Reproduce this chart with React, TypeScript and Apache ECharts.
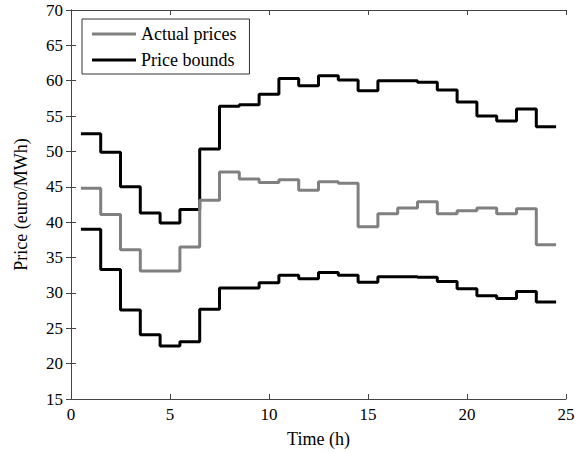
import React, { useEffect, useRef } from "react";
import * as echarts from "echarts";

const hours = [1, 2, 3, 4, 5, 6, 7, 8, 9, 10, 11, 12, 13, 14, 15, 16, 17, 18, 19, 20, 21, 22, 23, 24];
const actualPrices = [44.8, 41.1, 36.1, 33.1, 33.1, 36.5, 43.1, 47.1, 46.1, 45.6, 46.0, 44.5, 45.7, 45.5, 39.35, 41.2, 42.0, 42.9, 41.2, 41.6, 42.0, 41.2, 41.9, 36.8];
const upperBound = [52.5, 49.9, 45.0, 41.3, 39.9, 41.8, 50.35, 56.4, 56.6, 58.1, 60.3, 59.3, 60.7, 60.1, 58.6, 60.0, 60.0, 59.8, 58.7, 57.0, 55.0, 54.3, 56.0, 53.5];
const lowerBound = [39.0, 33.3, 27.6, 24.1, 22.5, 23.1, 27.7, 30.7, 30.7, 31.45, 32.5, 32.0, 32.9, 32.5, 31.5, 32.3, 32.3, 32.2, 31.6, 30.6, 29.6, 29.2, 30.2, 28.7];
const xTicks = [0, 25, 5];
const yTicks = [15, 70, 5];

const FONT = "Liberation Serif";

function stepData(vals: number[]): [number, number][] {
  const pts: [number, number][] = hours.map((h, i) => [h - 0.5, vals[i]]);
  pts.push([hours[hours.length - 1] + 0.5, vals[vals.length - 1]]);
  return pts;
}

export default function App() {
  const ref = useRef<HTMLDivElement>(null);
  useEffect(() => {
    if (!ref.current) return;
    const chart = echarts.init(ref.current, undefined, { renderer: "svg" });
    const axisLine = { show: true, lineStyle: { color: "#444", width: 1 } };
    const tick = { show: true, inside: true, length: 5, lineStyle: { color: "#444" } };
    chart.setOption({
      animation: false,
      backgroundColor: "#fff",
      textStyle: { fontFamily: FONT },
      grid: { left: 71, right: 18, top: 10, bottom: 53 },
      legend: {
        left: 82,
        top: 19,
        orient: "vertical",
        data: ["Actual prices", "Price bounds"],
        icon: "rect",
        itemWidth: 44,
        itemHeight: 3,
        itemGap: 8,
        itemTextGap: 5,
        padding: [6, 13, 5, 10],
        borderColor: "#333",
        borderWidth: 1,
        backgroundColor: "#fff",
        textStyle: { fontFamily: FONT, fontSize: 18, color: "#000" },
      },
      xAxis: [
        {
          type: "value",
          min: xTicks[0],
          max: xTicks[1],
          interval: xTicks[2],
          position: "bottom",
          name: "Time (h)",
          nameLocation: "middle",
          nameGap: 31,
          nameTextStyle: { fontFamily: FONT, fontSize: 18, color: "#000" },
          axisLine,
          axisTick: tick,
          axisLabel: { fontFamily: FONT, fontSize: 17, color: "#000", margin: 7 },
          splitLine: { show: false },
        },
        {
          type: "value",
          min: xTicks[0],
          max: xTicks[1],
          interval: xTicks[2],
          position: "top",
          axisLine,
          axisTick: tick,
          axisLabel: { show: false },
          splitLine: { show: false },
        },
      ],
      yAxis: [
        {
          type: "value",
          min: yTicks[0],
          max: yTicks[1],
          interval: yTicks[2],
          position: "left",
          name: "Price (euro/MWh)",
          nameLocation: "middle",
          nameGap: 41,
          nameTextStyle: { fontFamily: FONT, fontSize: 18, color: "#000" },
          axisLine,
          axisTick: tick,
          axisLabel: { fontFamily: FONT, fontSize: 17, color: "#000", margin: 8 },
          splitLine: { show: false },
        },
        {
          type: "value",
          min: yTicks[0],
          max: yTicks[1],
          interval: yTicks[2],
          position: "right",
          axisLine,
          axisTick: tick,
          axisLabel: { show: false },
          splitLine: { show: false },
        },
      ],
      series: [
        {
          name: "Actual prices",
          type: "line",
          step: "end",
          data: stepData(actualPrices),
          showSymbol: false,
          color: "#808080",
          lineStyle: { color: "#808080", width: 3 },
          z: 3,
        },
        {
          name: "Price bounds",
          type: "line",
          step: "end",
          data: stepData(upperBound),
          showSymbol: false,
          color: "#000",
          lineStyle: { color: "#000", width: 3 },
          z: 2,
        },
        {
          name: "Price bounds",
          type: "line",
          step: "end",
          data: stepData(lowerBound),
          showSymbol: false,
          color: "#000",
          lineStyle: { color: "#000", width: 3 },
          z: 2,
        },
      ],
    });
    return () => chart.dispose();
  }, []);
  return (
    <div
      ref={ref}
      style={{ position: "fixed", left: 0, top: 0, width: 584, height: 453 }}
    />
  );
}
